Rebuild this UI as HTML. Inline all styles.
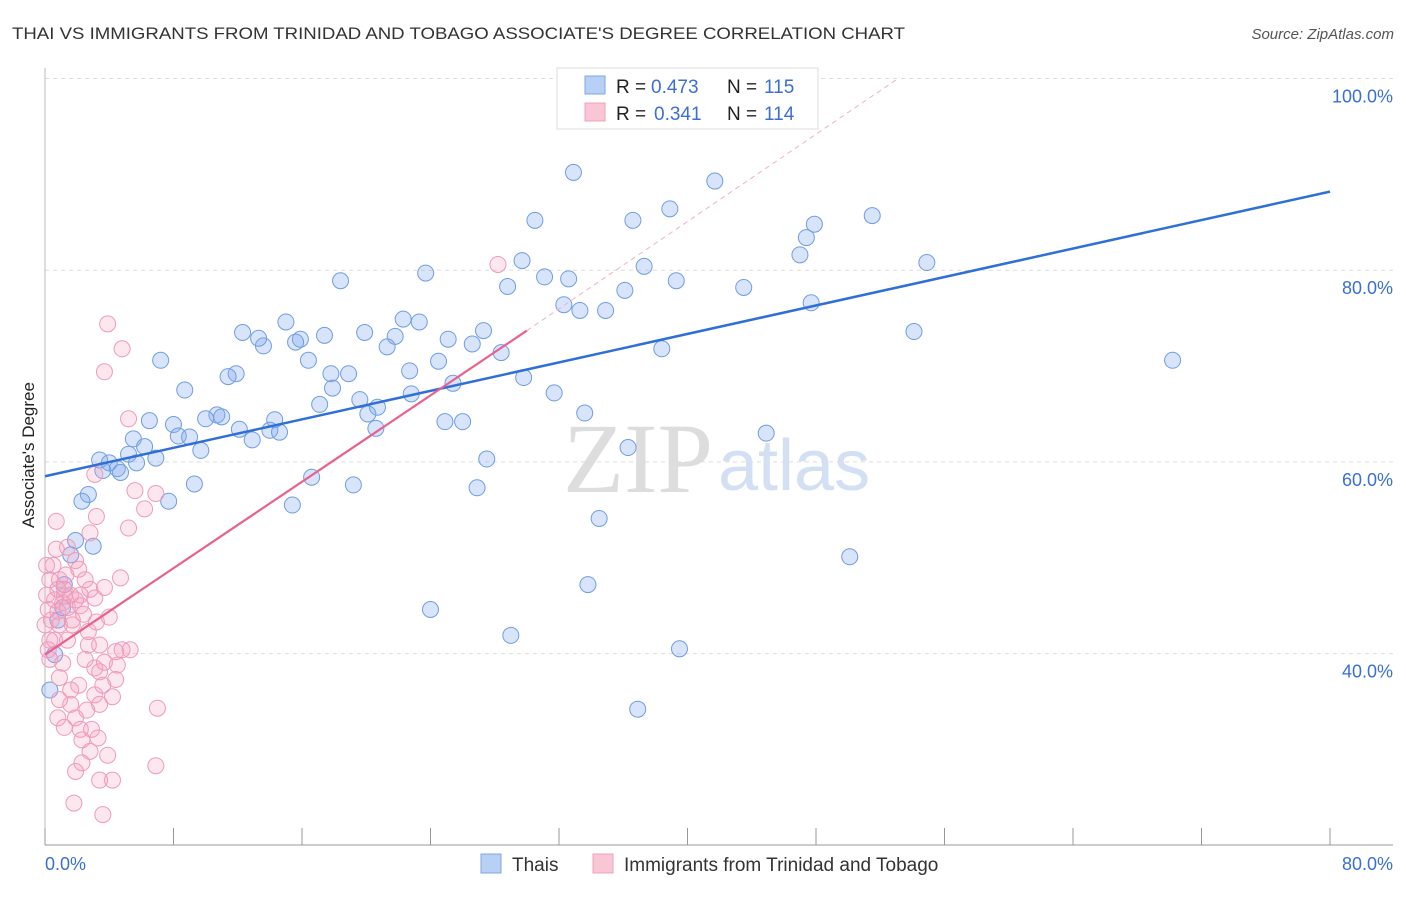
<!DOCTYPE html>
<html><head><meta charset="utf-8">
<style>
body{margin:0;background:#fff;font-family:"Liberation Sans",sans-serif;}
svg text{font-family:"Liberation Sans",sans-serif;}
</style></head>
<body>
<svg id="chart" width="1406" height="892" viewBox="0 0 1406 892">
<text x="12" y="39" font-size="17" fill="#333" textLength="893" lengthAdjust="spacingAndGlyphs">THAI VS IMMIGRANTS FROM TRINIDAD AND TOBAGO ASSOCIATE'S DEGREE CORRELATION CHART</text>
<text x="1394" y="39" font-size="15" fill="#555" font-style="italic" text-anchor="end">Source: ZipAtlas.com</text>
<g id="grid"></g>
<text x="713" y="492" font-size="100" fill="#ddd" text-anchor="end" font-family="Liberation Serif" style="font-family:'Liberation Serif',serif">ZIP</text>
<text x="718" y="490" font-size="72" fill="#d3e0f4">atlas</text>
<g id="pts"></g>
<g id="lines"></g>
<text transform="translate(34,455) rotate(-90)" font-size="17" fill="#222" text-anchor="middle">Associate's Degree</text>
<g>
<rect x="557" y="68" width="261" height="61" fill="#fff" stroke="#ddd"/>
<rect x="585" y="76" width="20" height="18" fill="#b8d0f3" stroke="#7ea6e6"/>
<rect x="585" y="103" width="20" height="18" fill="#f9c6d6" stroke="#f0a0bc"/>
<text x="616" y="93" font-size="19" fill="#222">R =</text>
<text x="651" y="93" font-size="19" fill="#3b6fd1">0.473</text>
<text x="727" y="93" font-size="19" fill="#222">N =</text>
<text x="764" y="93" font-size="19" fill="#3b6fd1">115</text>
<text x="616" y="120" font-size="19" fill="#222">R =</text>
<text x="654" y="120" font-size="19" fill="#3b6fd1">0.341</text>
<text x="727" y="120" font-size="19" fill="#222">N =</text>
<text x="764" y="120" font-size="19" fill="#3b6fd1">114</text>
</g>
<g>
<rect x="481" y="854" width="20" height="19" fill="#b8d0f3" stroke="#7ea6e6"/>
<text x="512" y="871" font-size="19" fill="#333">Thais</text>
<rect x="593" y="854" width="20" height="19" fill="#f9c6d6" stroke="#f0a0bc"/>
<text x="624" y="871" font-size="19" fill="#333">Immigrants from Trinidad and Tobago</text>
</g>
</svg>
<script>
const yTicks=[40,60,80,100];
const yTickLabels=["40.0%","60.0%","80.0%","100.0%"];
const xTicks=[0,8,16,24,32,40,48,56,64,72,80];
const blueX=[32.9,41.7,30.5,36.6,38.9,51.5,47.9,47.4,47.0,29.7,23.7,18.4,28.8,31.1,32.6,37.3,39.3,36.1,43.5,54.9,47.7,32.3,33.3,34.9,54.1,70.2,38.4,22.3,23.3,27.3,25.1,26.6,28.4,21.8,21.3,19.9,17.4,15.0,15.9,15.6,13.6,12.3,13.3,16.4,7.2,11.9,11.4,17.8,18.9,8.7,22.7,24.5,25.4,22.8,29.8,31.7,17.9,19.6,17.1,20.7,20.1,10.7,10.0,11.0,33.6,24.9,26.0,6.5,8.0,8.3,9.0,12.1,14.3,14.0,14.6,5.5,20.6,12.9,6.2,9.7,44.9,36.3,6.9,3.4,4.0,5.2,5.7,4.5,4.7,3.6,27.5,16.6,19.2,26.9,9.3,2.7,2.3,7.7,15.4,34.5,1.9,1.6,3.0,50.1,33.8,24.0,29.0,39.5,36.9,1.2,0.6,0.3,1.1,0.8];
const blueY=[90.2,89.3,85.2,85.2,86.4,85.7,84.8,83.4,81.6,81.0,79.7,78.9,78.3,79.3,79.1,80.4,78.9,77.9,78.2,80.8,76.6,76.4,75.8,75.8,73.6,70.6,71.8,74.9,74.6,73.7,72.8,72.3,71.4,73.1,72.0,73.5,73.2,74.6,72.8,72.5,72.1,73.5,72.9,70.6,70.6,69.2,68.9,69.2,69.2,67.5,69.5,70.5,68.2,67.1,68.8,67.2,67.7,66.5,66.0,65.7,65.0,64.9,64.5,64.7,65.1,64.2,64.2,64.3,63.9,62.7,62.6,63.4,64.4,63.3,63.1,62.4,63.5,62.3,61.6,61.2,63.0,61.5,60.4,60.2,59.9,60.8,59.9,59.3,58.9,59.1,60.3,58.4,57.6,57.3,57.7,56.6,55.9,55.9,55.5,54.1,51.8,50.3,51.2,50.1,47.2,44.6,41.9,40.5,34.2,47.2,39.9,36.2,44.8,43.5];
const pinkX=[28.2,3.9,4.8,3.7,5.2,3.1,5.6,6.9,6.2,0.7,3.2,2.8,5.2,0.1,0.5,1.9,0.3,0.9,1.2,1.6,0.1,0.6,1.1,0.8,1.4,1.9,2.2,2.8,0.4,0.9,1.7,2.4,3.1,3.7,4.7,2.7,3.4,1.4,0.6,4.0,4.8,0.3,1.1,2.5,3.1,3.4,4.5,3.7,4.4,0.9,2.1,3.1,4.2,3.4,1.6,0.8,1.9,1.2,2.2,3.3,7.0,2.8,2.3,3.4,4.2,6.9,1.8,3.6,0.9,0.3,0.2,1.3,2.1,3.6,4.4,5.3,1.6,2.6,2.9,2.3,1.9,3.9,3.2,2.7,0.7,1.4,0.0,0.2,2.5,1.7,0.8,1.2,2.2];
const pinkY=[80.6,74.4,71.8,69.4,64.5,58.7,57.0,56.7,55.1,53.8,54.3,52.6,53.1,49.2,49.2,49.7,47.7,47.7,46.7,46.1,46.1,45.6,45.3,44.4,44.8,45.6,45.0,46.7,43.5,43.0,43.5,44.1,45.8,46.9,47.9,42.3,40.9,41.4,41.4,43.8,40.4,39.4,39.0,39.4,38.5,38.1,38.8,39.1,37.3,37.5,36.7,35.7,35.5,34.7,34.7,33.3,33.3,32.3,32.1,31.2,34.3,29.8,28.6,26.8,26.8,28.3,24.4,23.2,35.2,41.4,44.6,48.2,48.8,36.7,40.2,40.4,36.2,34.1,32.1,31.0,27.7,29.4,43.3,40.9,50.9,51.1,43.0,40.4,47.7,43.0,46.7,46.0,46.1];
const blueLine=[[0,58.5],[80,88.2]];
const pinkLine=[[0,39.9],[30,73.7]];
const pinkDash=[[30,73.7],[53.2,100.1]];

const NS="http://www.w3.org/2000/svg";
const X=v=>45+v*16.0625;
const Y=v=>1037-v*9.585;
function mk(tag,attrs,parent){const e=document.createElementNS(NS,tag);for(const k in attrs)e.setAttribute(k,attrs[k]);parent.appendChild(e);return e;}
const grid=document.getElementById('grid');
yTicks.forEach((t,i)=>{
  const l=mk('line',{x1:45,x2:1393,y1:Y(t),y2:Y(t),stroke:'#ddd','stroke-dasharray':'4,4'},grid);
  
  
  const tx=mk('text',{x:1393,y:Y(t)+24,'font-size':18,fill:'#3b6fd1','text-anchor':'end'},grid);
  tx.textContent=yTickLabels[i];
  
  
});
const ax=mk('line',{x1:45,x2:1393,y1:845,y2:845,stroke:'#999'},grid);


const ay=mk('line',{x1:45,x2:45,y1:68,y2:845,stroke:'#bbb'},grid);


xTicks.forEach(t=>{
  const l=mk('line',{x1:X(t),x2:X(t),y1:828,y2:845,stroke:'#999'},grid);
  
  
});
const xl0=mk('text',{x:45,y:870,'font-size':18,fill:'#3b6fd1'},grid);xl0.textContent='0.0%';


const xl1=mk('text',{x:1393,y:870,'font-size':18,fill:'#3b6fd1','text-anchor':'end'},grid);xl1.textContent='80.0%';



const pts=document.getElementById('pts');
blueX.forEach((x,i)=>{
  const c=mk('circle',{cx:X(x),cy:Y(blueY[i]),r:8,fill:'rgba(130,172,235,0.32)',stroke:'#6f9de3','stroke-width':1},pts);
  
  
});
pinkX.forEach((x,i)=>{
  const c=mk('circle',{cx:X(x),cy:Y(pinkY[i]),r:8,fill:'rgba(245,160,190,0.25)',stroke:'#f09ab8','stroke-width':1},pts);
  
  
});
const lines=document.getElementById('lines');
const bl=mk('line',{x1:X(blueLine[0][0]),y1:Y(blueLine[0][1]),x2:X(blueLine[1][0]),y2:Y(blueLine[1][1]),stroke:'#2f6fd6','stroke-width':2.5},lines);


const pl=mk('line',{x1:X(pinkLine[0][0]),y1:Y(pinkLine[0][1]),x2:X(pinkLine[1][0]),y2:Y(pinkLine[1][1]),stroke:'#e8628f','stroke-width':2.2},lines);


const pd=mk('line',{x1:X(pinkDash[0][0]),y1:Y(pinkDash[0][1]),x2:X(pinkDash[1][0]),y2:Y(pinkDash[1][1]),stroke:'#f0b0c6','stroke-width':1,'stroke-dasharray':'5,4'},lines);


</script>
</body></html>
